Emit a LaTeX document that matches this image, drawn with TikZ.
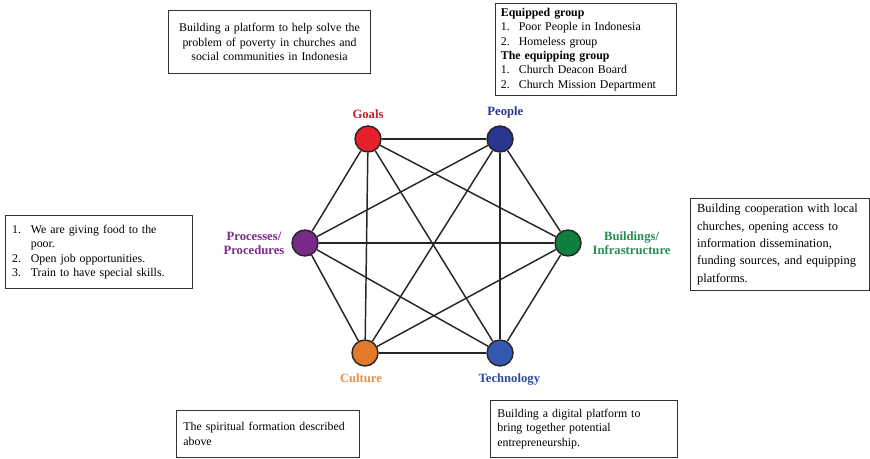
\documentclass[tikz,border=0pt]{standalone}
\usepackage{fontspec}
\setmainfont{Liberation Serif}
\usetikzlibrary{positioning}

\definecolor{goalsred}{HTML}{E8202A}
\definecolor{peopleblue}{HTML}{2B3590}
\definecolor{procpurple}{HTML}{7A2A88}
\definecolor{buildgreen}{HTML}{0F8040}
\definecolor{cultorange}{HTML}{E27A2A}
\definecolor{techblue}{HTML}{3558B0}

\begin{document}
\begin{tikzpicture}[x=0.75pt,y=-0.75pt,
 vertex/.style={circle,draw=black!85,line width=1.1pt,minimum size=19.5pt,inner sep=0pt},
 lbl/.style={font=\fontsize{9.5}{10.5}\selectfont\bfseries,align=center,inner sep=1pt},
 infobox/.style={draw=black!80,line width=0.8pt,anchor=north west,inner xsep=5pt,
  font=\fontsize{8.9}{10.8}\selectfont,align=left},
 link/.style={line width=1.1pt,black!85}]
 \useasboundingbox (0,0) rectangle (870,459);

 % the six elements
 \node[vertex,fill=goalsred] (goals) at (368,139) {};
 \node[vertex,fill=peopleblue] (people) at (500,139) {};
 \node[vertex,fill=procpurple] (proc) at (305,243) {};
 \node[vertex,fill=buildgreen] (build) at (568,243) {};
 \node[vertex,fill=cultorange] (culture) at (365,353) {};
 \node[vertex,fill=techblue] (tech) at (500,353) {};

 \node[lbl,text=goalsred!85!black,above=4pt of goals] (goals_l) {Goals};
 \node[lbl,text=peopleblue,above=4pt of people,xshift=4pt] (people_l) {People};
 \node[lbl,text=procpurple,left=4pt of proc] (proc_l) {Processes/\\Procedures};
 \node[lbl,text=buildgreen!90!white,right=5pt of build,xshift=2pt] (build_l) {Buildings/\\Infrastructure};
 \node[lbl,text=cultorange!85!white,below=4pt of culture,xshift=-3pt] (culture_l) {Culture};
 \node[lbl,text=techblue!85!black,below=4pt of tech,xshift=7pt] (tech_l) {Technology};

 % every element linked to every other
 \path[link]
 (goals) edge (people) edge (proc) edge (build) edge (culture) edge (tech)
 (people) edge (proc) edge (build) edge (culture) edge (tech)
 (proc) edge (build) edge (culture) edge (tech)
 (build) edge (culture) edge (tech)
 (culture) edge (tech);

 % descriptions
 \node[infobox,align=center,minimum width=151.5pt,minimum height=47.25pt,text width=141pt] (goals_t) at (168,10)
  {Building a platform to help solve the\\problem of poverty in churches and\\social communities in Indonesia};
 \node[infobox,minimum width=135.75pt,minimum height=69pt,text width=128pt,inner xsep=4pt] (people_t) at (495,3)
  {\textbf{Equipped group}\\
   \makebox[13.5pt][l]{1.}Poor People in Indonesia\\
   \makebox[13.5pt][l]{2.}Homeless group\\
   \textbf{The equipping group}\\
   \makebox[13.5pt][l]{1.}Church Deacon Board\\
   \makebox[13.5pt][l]{2.}Church Mission Department};
 \node[infobox,minimum width=138.75pt,minimum height=54.75pt,text width=130pt] (proc_t) at (5,215)
  {\makebox[14pt][l]{1.}We are giving food to the\\
   \hspace*{14pt}poor.\\
   \makebox[14pt][l]{2.}Open job opportunities.\\
   \makebox[14pt][l]{3.}Train to have special skills.};
 \node[infobox,font=\fontsize{9.3}{13}\selectfont,minimum width=133.5pt,minimum height=69pt,text width=124pt] (build_t) at (690,198)
  {Building cooperation with local\\churches, opening access to\\information dissemination,\\funding sources, and equipping\\platforms.};
 \node[infobox,minimum width=137.25pt,minimum height=35.25pt,text width=127pt] (culture_t) at (176,410)
  {The spiritual formation described\\above};
 \node[infobox,minimum width=140.25pt,minimum height=42.75pt,text width=130pt] (tech_t) at (490,400)
  {Building a digital platform to\\bring together potential\\entrepreneurship.};
\end{tikzpicture}
\end{document}
